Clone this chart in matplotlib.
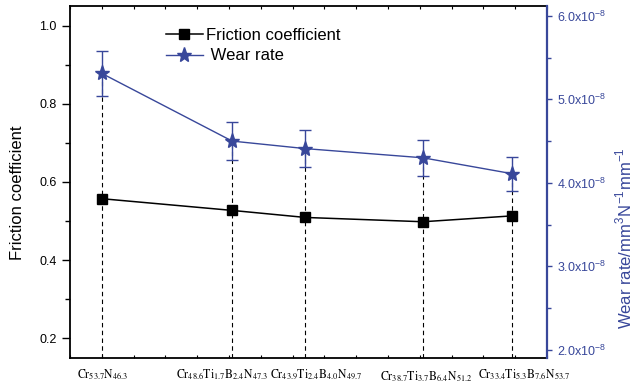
import matplotlib
matplotlib.use('Agg')
import matplotlib.pyplot as plt
from matplotlib.ticker import MultipleLocator, FuncFormatter
from matplotlib.lines import Line2D

samples = [r'$\mathrm{Cr_{53.7}N_{46.3}}$',
           r'$\mathrm{Cr_{48.6}Ti_{1.7}B_{2.4}N_{47.3}}$',
           r'$\mathrm{Cr_{43.9}Ti_{2.4}B_{4.0}N_{49.7}}$',
           r'$\mathrm{Cr_{38.7}Ti_{3.7}B_{6.4}N_{51.2}}$',
           r'$\mathrm{Cr_{33.4}Ti_{5.3}B_{7.6}N_{53.7}}$']
x_pos = [0, 4.1, 6.4, 10.1, 12.9]
friction = [0.557, 0.527, 0.509, 0.498, 0.513]
# wear rate in units of 1e-8 mm^3 N^-1 mm^-1
wear = [5.31, 4.50, 4.41, 4.30, 4.11]
wear_err = [0.27, 0.225, 0.22, 0.215, 0.205]

plt.rcParams['font.family'] = ['Liberation Sans', 'DejaVu Sans']
plt.rcParams['mathtext.fontset'] = 'stix'

blue = '#38479a'

fig = plt.figure(figsize=(6.34, 3.89), dpi=100)
ax = fig.add_axes([0.1104, 0.0805, 0.7529, 0.9048])
ax2 = ax.twinx()

# friction coefficient (left axis)
ax.plot(x_pos, friction, color='k', marker='s', ms=7.7, lw=1.1, zorder=3)
ax.set_xlim(-1, 14.01)
ax.set_ylim(0.15, 1.051)
ax.xaxis.set_major_locator(MultipleLocator(1))
ax.yaxis.set_major_locator(MultipleLocator(0.2))
ax.yaxis.set_minor_locator(MultipleLocator(0.1))
ax.yaxis.set_major_formatter(FuncFormatter(lambda v, p: f'{v:.1f}'))
ax.tick_params(axis='x', direction='in', length=2.5, width=0.8, top=True, labelbottom=False)
ax.tick_params(axis='y', which='major', direction='out', length=6, width=1, labelsize=9)
ax.tick_params(axis='y', which='minor', direction='out', length=3.5, width=1)
for s in ['left', 'bottom', 'top']:
    ax.spines[s].set_linewidth(1.3)
ax.spines['right'].set_visible(False)

# wear rate (right axis)
ax2.vlines(x_pos, 1.908, wear, colors='k', linestyles=(0, (4, 3)), linewidth=0.8, zorder=1)
ax2.errorbar(x_pos, wear, yerr=wear_err, fmt='none', ecolor=blue, elinewidth=1, capsize=4.5, capthick=1, zorder=2)
ax2.plot(x_pos, wear, color=blue, marker='*', ms=11, lw=1, zorder=3)
ax2.set_ylim(1.908, 6.12)
ax2.yaxis.set_major_locator(MultipleLocator(1.0))
ax2.yaxis.set_minor_locator(MultipleLocator(0.5))
ax2.yaxis.set_major_formatter(FuncFormatter(lambda v, p: f'{v:.1f}x10' + r'$^{\mathregular{-8}}$'))
ax2.tick_params(axis='y', which='major', direction='out', length=3.5, width=1, colors=blue, labelsize=9)
ax2.tick_params(axis='y', which='minor', direction='out', length=3, width=1, colors=blue)
ax2.spines['right'].set_color(blue)
ax2.spines['right'].set_linewidth(1.6)
for s in ['left', 'bottom', 'top']:
    ax2.spines[s].set_visible(False)

# sample names under each column
dx = [1, -7, 8, 2.5, 9]
dy = [-14.6, -14.6, -14.6, -16, -14.6]
for x, name, ox, oy in zip(x_pos, samples, dx, dy):
    ax.annotate(name, xy=(x, 0), xycoords=('data', 'axes fraction'),
                xytext=(ox, oy), textcoords='offset points',
                ha='center', va='baseline', fontsize=8.5)

fig.text(17.5 / 634, 1 - 193 / 389, 'Friction coefficient', rotation=90,
         ha='center', va='center', fontsize=12)
fig.text(624 / 634, 1 - 238 / 389,
         r'Wear rate/mm$^{\mathregular{3}}$N$^{\mathregular{-1}}$mm$^{\mathregular{-1}}$',
         rotation=90, ha='center', va='center', fontsize=12, color=blue)

handles = [Line2D([], [], color='k', marker='s', ms=7.7, lw=1.1),
           Line2D([], [], color=blue, marker='*', ms=11, lw=1)]
ax2.legend(handles, ['Friction coefficient', ' Wear rate'], loc='upper left',
           bbox_to_anchor=(0.201, 0.937), frameon=False, fontsize=12,
           handlelength=2.2, handletextpad=0.2, labelspacing=0.33, borderpad=0,
           borderaxespad=0)

fig.savefig('out.png', dpi=100)
